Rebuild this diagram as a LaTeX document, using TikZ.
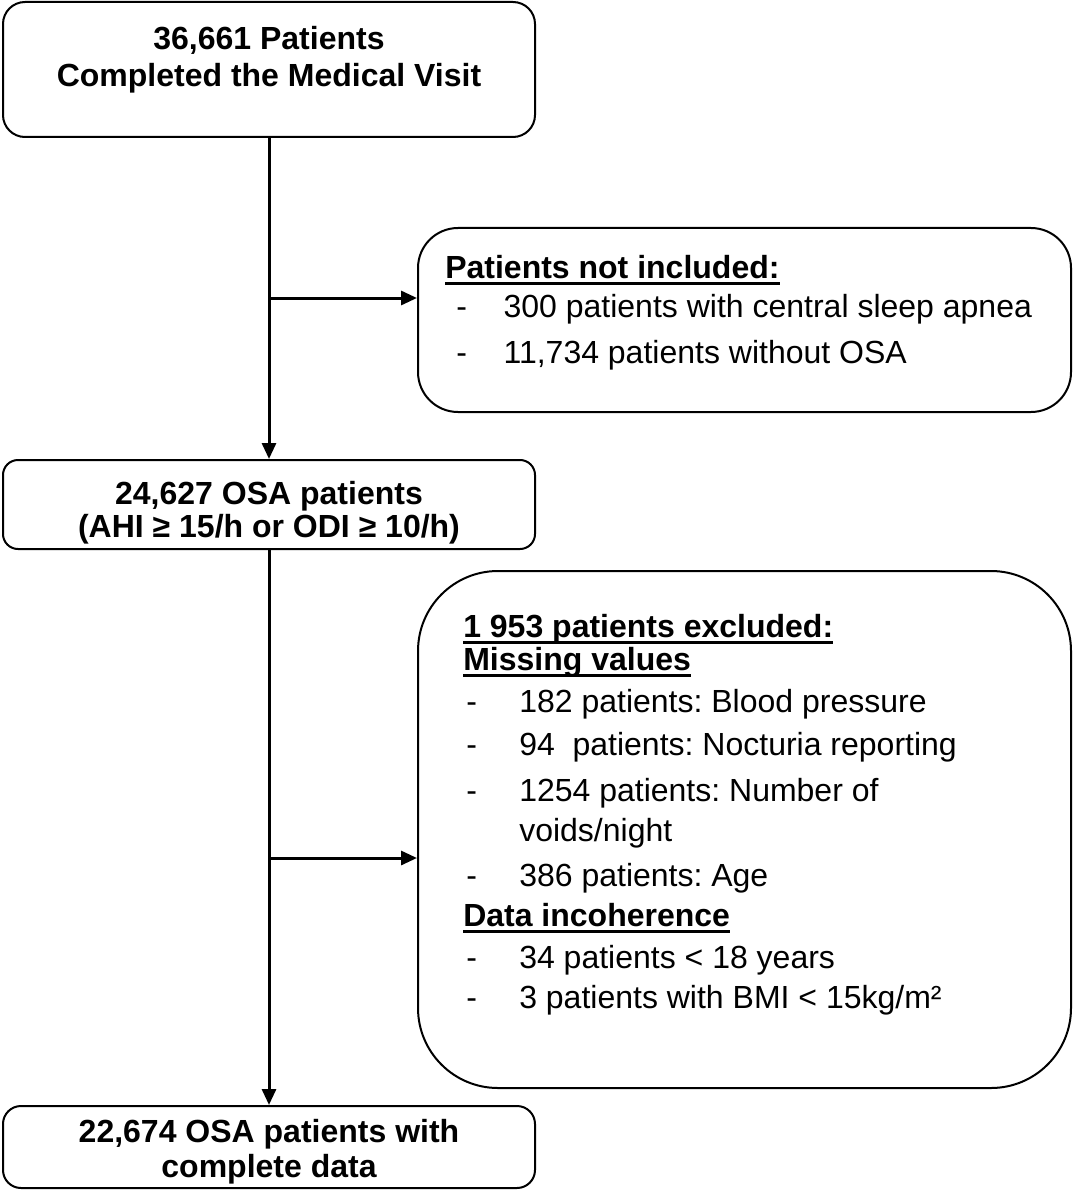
\documentclass[tikz,border=0pt]{standalone}
\usepackage{fontspec}
\setmainfont{Liberation Sans}
\usetikzlibrary{arrows.meta}
\frenchspacing
\newcommand\ulx[1]{\setbox0\hbox{#1}\rlap{\rule[-5.5pt]{\wd0}{2.2pt}}\box0}
\newcommand\dashA{\makebox[35.5pt][l]{-}}
\newcommand\dashB{\makebox[39.75pt][l]{-}}
\begin{document}
\begin{tikzpicture}[x=0.75pt,y=-0.75pt,
  box/.style={draw=black,line width=1.5pt,inner sep=0pt,fill=white},
  ctr/.style={inner sep=0pt,anchor=base,font=\fontsize{24}{28}\selectfont\bfseries},
  lft/.style={inner sep=0pt,anchor=base west,font=\fontsize{24}{28}\selectfont},
  hd/.style={lft,font=\fontsize{24}{28}\selectfont\bfseries},
  flow/.style={line width=2.25pt,-{Triangle[length=12pt,width=10.5pt]}},
  ]
\useasboundingbox (0,0) rectangle (1073,1191);
% boxes
\node[box,rounded corners=16.5pt,minimum width=399pt,minimum height=101.25pt] (top) at (269,69.5) {};
\node[box,rounded corners=30pt,minimum width=489.75pt,minimum height=138pt] (b1) at (744.5,320) {};
\node[box,rounded corners=11.25pt,minimum width=399pt,minimum height=66.75pt] (mid) at (269,504.5) {};
\node[box,rounded corners=60pt,minimum width=489.75pt,minimum height=387.75pt] (b2) at (744.5,829.5) {};
\node[box,rounded corners=13.5pt,minimum width=399pt,minimum height=61.5pt] (bot) at (269,1147) {};
% connectors
\coordinate (j1) at (269,298);
\coordinate (j2) at (269,858);
\draw[flow] (top.south) -- (mid.north);
\draw[flow] (j1) -- (j1 -| b1.west);
\draw[flow] (mid.south) -- (bot.north);
\draw[flow] (j2) -- (j2 -| b2.west);
% texts
\node[ctr] (t1) at (269,50) {36,661 Patients};
\node[ctr] (t2) at (269,87) {Completed the Medical Visit};
\node[hd] (h1) at (445,278) {\ulx{Patients not included:}};
\node[lft] (a1) at (456,317) {\dashA 300 patients with central sleep apnea};
\node[lft] (a2) at (456,363) {\dashA 11,734 patients without OSA};
\node[ctr] (m1) at (269,504) {24,627 OSA patients};
\node[ctr] (m2) at (269,537) {(AHI ≥ 15/h or ODI ≥ 10/h)};
\node[hd] (h2) at (463,637) {\ulx{1 953 patients excluded:}};
\node[hd] (h3) at (463,670) {\ulx{Missing values}};
\node[lft] (c1) at (466,712) {\dashB 182 patients: Blood pressure};
\node[lft] (c2) at (466,755) {\dashB 94\ \ patients: Nocturia reporting};
\node[lft] (c3) at (466,801) {\dashB 1254 patients: Number of};
\node[lft] (c4) at (519,841) {voids/night};
\node[lft] (c5) at (466,886) {\dashB 386 patients: Age};
\node[hd] (h4) at (463,926) {\ulx{Data incoherence}};
\node[lft] (c6) at (466,968) {\dashB 34 patients < 18 years};
\node[lft] (c7) at (466,1008) {\dashB 3 patients with BMI < 15kg/m²};
\node[ctr] (z1) at (269,1142) {22,674 OSA patients with};
\node[ctr] (z2) at (269,1177) {complete data};
\end{tikzpicture}
\end{document}
